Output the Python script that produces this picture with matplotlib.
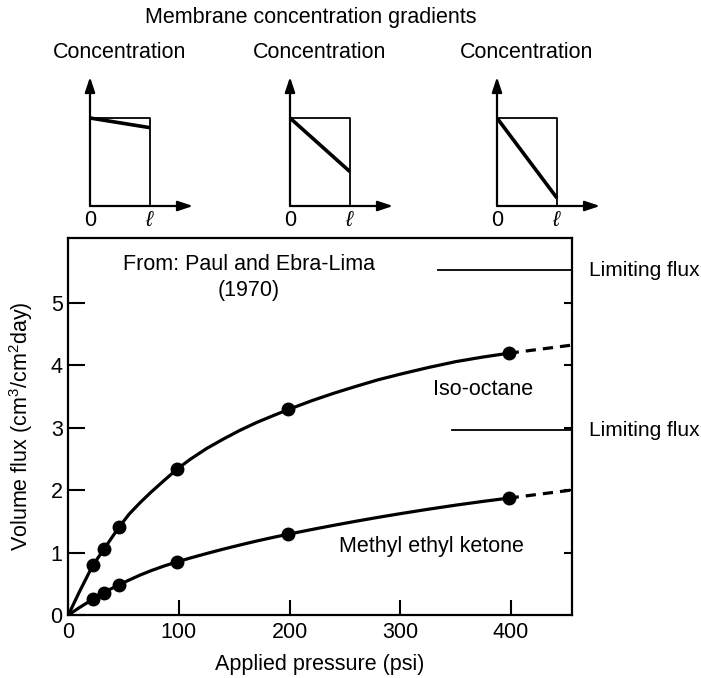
import matplotlib
matplotlib.use('Agg')
import matplotlib.pyplot as plt

plt.rcParams['font.family'] = ['Liberation Sans', 'DejaVu Sans']
plt.rcParams['mathtext.fontset'] = 'custom'
plt.rcParams['mathtext.rm'] = 'Liberation Sans'
plt.rcParams['mathtext.it'] = 'Liberation Sans:italic'

# measured points
pressure_pts = [22, 32, 46, 98, 199, 398]
iso_pts = [0.80, 1.05, 1.41, 2.33, 3.29, 4.19]
mek_pts = [0.25, 0.36, 0.48, 0.85, 1.29, 1.87]

curve_p = [0, 10, 22, 32, 46, 55, 65, 75, 87, 98, 110, 125, 140, 155, 170, 185, 199,
           220, 240, 260, 280, 300, 325, 350, 375, 398]
iso_curve = [0, 0.37, 0.79, 1.05, 1.41, 1.615, 1.80, 1.97, 2.16, 2.33, 2.49, 2.665, 2.815, 2.955,
             3.08, 3.19, 3.29, 3.43, 3.55, 3.66, 3.765, 3.855, 3.96, 4.055, 4.13, 4.19]
mek_curve = [0, 0.118, 0.25, 0.36, 0.485, 0.56, 0.64, 0.711, 0.787, 0.848, 0.911, 0.984, 1.054, 1.12,
             1.183, 1.242, 1.294, 1.368, 1.436, 1.501, 1.563, 1.622, 1.692, 1.758, 1.819, 1.871]

# extrapolated (dashed) segments
extrap_p = [398, 455]
iso_extrap = [4.19, 4.32]
mek_extrap = [1.871, 2.00]

# limiting flux levels and where their lines start
limit_flux = [5.52, 2.96]
limit_start = [334, 347]

# membrane gradient sketches: concentration at the far face (feed face = 1)
grad_end = [0.89, 0.39, 0.09]

FS = 15.5
fig = plt.figure(figsize=(7.01, 6.78), dpi=100)
W, H = 701, 678

ax = fig.add_axes([68.3 / W, 1 - 615 / H, (571.7 - 68.3) / W, (615 - 238.3) / H])
ax.plot(curve_p, iso_curve, color='black', lw=2.3, solid_capstyle='round', solid_joinstyle='round')
ax.plot(curve_p, mek_curve, color='black', lw=2.3, solid_capstyle='round', solid_joinstyle='round')
ax.plot(extrap_p, iso_extrap, color='black', lw=2.3, ls=(0, (3.2, 2.2)))
ax.plot(extrap_p, mek_extrap, color='black', lw=2.3, ls=(0, (3.2, 2.2)))
ax.plot(pressure_pts, iso_pts, 'o', color='black', ms=9)
ax.plot(pressure_pts, mek_pts, 'o', color='black', ms=9)

for lvl, x0 in zip(limit_flux, limit_start):
    ax.plot([x0, 455], [lvl, lvl], color='black', lw=1.3)
    ax.text(471, lvl, 'Limiting flux', fontsize=15, va='center', ha='left', clip_on=False)

ax.text(163, 5.78, 'From: Paul and Ebra-Lima\n(1970)', fontsize=FS, ha='center', va='top',
        linespacing=1.3)
ax.text(375, 3.61, 'Iso-octane', fontsize=FS, ha='center', va='center')
ax.text(328, 1.09, 'Methyl ethyl ketone', fontsize=FS, ha='center', va='center')

ax.set_xlim(0, 455)
ax.set_ylim(0, 6.03)
ax.set_xticks([0, 100, 200, 300, 400])
ax.set_yticks([0, 1, 2, 3, 4, 5])
ax.tick_params(axis='y', direction='in', length=12, width=1.5, labelsize=FS, pad=4)
ax.tick_params(axis='x', direction='in', length=11, width=1.5, labelsize=FS, pad=5)
for s in ax.spines.values():
    s.set_linewidth(1.6)
ax.set_xlabel('Applied pressure (psi)', fontsize=FS, labelpad=8)
ax.set_ylabel('Volume flux (cm$^3$/cm$^2$day)', fontsize=FS, labelpad=11)

# short ticks on the right edge
ax_r = ax.twinx()
ax_r.set_ylim(ax.get_ylim())
ax_r.set_yticks([1, 2, 3, 4, 5])
ax_r.tick_params(axis='y', direction='in', length=6, width=1.5, labelright=False)
for s in ax_r.spines.values():
    s.set_visible(False)

# membrane concentration gradient sketches above the plot
fig.text(311 / W, 1 - 17 / H, 'Membrane concentration gradients', fontsize=FS, ha='center', va='center')
inset_left = [90, 290, 497]
box_w, box_h = 60, 88
for x0, c_end in zip(inset_left, grad_end):
    ins = fig.add_axes([x0 / W, 1 - 206 / H, 115 / W, 135 / H])
    ins.set_xlim(0, 115 / box_w)
    ins.set_ylim(0, 135 / box_h)
    ins.axis('off')
    arrow = dict(arrowstyle='-|>,head_length=0.9,head_width=0.3', color='black', lw=1.6,
                 shrinkA=0, shrinkB=0)
    ins.annotate('', xy=(103 / box_w, 0), xytext=(0, 0), arrowprops=arrow)
    ins.annotate('', xy=(0, 129 / box_h), xytext=(0, 0), arrowprops=arrow)
    ins.plot([0, 1, 1], [1, 1, 0], color='black', lw=1.3)
    ins.plot([0, 1], [1, c_end], color='black', lw=2.6, solid_capstyle='butt')
    ins.text(0, -0.16, '0', fontsize=FS, ha='center', va='center', clip_on=False)
    ins.text(1, -0.16, r'$\ell$', fontsize=FS, ha='center', va='center', clip_on=False)
    ins.text(0.5, 1.74, 'Concentration', fontsize=FS, ha='center', va='center', clip_on=False)

fig.savefig('out.png', dpi=100)
